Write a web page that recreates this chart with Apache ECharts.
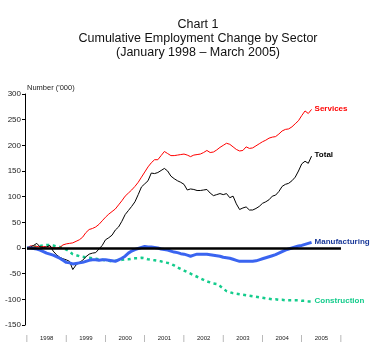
<!DOCTYPE html>
<html>
<head>
<meta charset="utf-8">
<script src="https://cdn.jsdelivr.net/npm/echarts@6/dist/echarts.min.js"></script>
<style>
html,body{margin:0;padding:0;background:#fff;}
#chart{width:387px;height:356px;}
</style>
</head>
<body>
<div id="chart"></div>
<script>
// Tick labels (years) on the x axis
var years = ['1998','1999','2000','2001','2002','2003','2004','2005'];
// Months since start of 1998 (0 = baseline), one value per month up to March 2005
var services = [0,4,4,3,2,3,2,2,1,0,1,6,8,9,10,13,16,21,30,36,38,41,46,53,60,66,71,76,84,92,101,107,113,120,128,138,148,158,166,172,172,180,188,184,180,180,181,182,183,181,178,181,182,183,186,190,186,187,191,196,200,204,202,197,192,189,190,197,194,195,199,203,207,210,214,216,217,222,228,231,232,236,242,248,258,267,262,270];
var total = [0,2,5,9,2,1,2,5,-6,-13,-18,-21,-23,-26,-42,-33,-28,-24,-17,-12,-10,-9,-2,5,16,20,25,35,41,52,65,73,81,90,104,119,125,131,146,145,147,151,155,150,140,135,131,128,124,113,115,114,112,112,113,114,107,102,104,106,104,106,98,101,86,75,78,80,74,74,77,81,87,90,94,101,103,110,120,124,126,131,138,150,164,169,165,179];
var manufacturing = [0,0,-1,-2,-4,-7,-10,-12,-14,-17,-20,-24,-28,-29,-31,-30,-29,-28,-26,-24,-23,-23,-24,-23,-23,-24,-25,-26,-23,-20,-16,-10,-6,-3,-1,1,3,2,2,1,0,-2,-3,-4,-6,-8,-9,-11,-12,-14,-16,-14,-12,-12,-12,-12,-13,-14,-15,-16,-18,-19,-20,-22,-24,-26,-26,-26,-26,-26,-25,-23,-21,-19,-17,-15,-13,-10,-7,-4,-2,0,2,4,5,7,9,11];
var construction = [0,1,2,3,4,5,6,6,5,3,2,0,-3,-7,-12,-14,-16,-17,-18,-19,-20,-21,-22,-23,-24,-25,-26,-25,-24,-23,-22,-22,-21,-20,-20,-19,-20,-22,-23,-24,-25,-26,-28,-29,-31,-34,-38,-41,-44,-47,-50,-53,-56,-59,-62,-65,-67,-69,-70,-74,-79,-84,-86,-88,-89,-90,-91,-92,-93,-94,-95,-96,-97,-98,-99,-100,-100,-101,-101,-102,-102,-102,-102,-102,-103,-103,-104,-104];

function pairs(arr){ return arr.map(function(v,i){ return [i, v]; }); }

var chart = echarts.init(document.getElementById('chart'), null, {renderer:'canvas'});
var FONT = '"Liberation Sans", Arial, sans-serif';

function endLab(color){
  return {show:true, formatter:'{a}', color:color, fontFamily:FONT, fontSize:8, fontWeight:'bold', distance:3, offset:[0,-1]};
}

var option = {
  animation:false,
  backgroundColor:'#fff',
  title:{
    text:'Chart 1\nCumulative Employment Change by Sector\n(January 1998 \u2013 March 2005)',
    left:193, top:13, textAlign:'center',
    textStyle:{fontFamily:FONT, fontSize:12.5, fontWeight:'normal', color:'#111', lineHeight:14}
  },
  graphic:[{
    type:'text', left:27, top:84,
    style:{text:"Number ('000)", fontFamily:FONT, fontSize:7.5, fill:'#222'}
  }],
  grid:{left:27, right:46, top:94, bottom:31, containLabel:false},
  xAxis:{
    type:'value', min:0, max:96, interval:6,
    axisLine:{show:false}, axisTick:{show:false}, splitLine:{show:false},
    axisLabel:{
      margin:10, fontFamily:FONT, fontSize:6, color:'#222',
      showMinLabel:true, showMaxLabel:true,
      formatter:function(v){
        if (v % 12 === 0) return '{bar|\u007c}';
        return years[(v-6)/12] || '';
      },
      rich:{bar:{color:'#888', fontSize:7, fontFamily:FONT}}
    }
  },
  yAxis:{
    type:'value', min:-150, max:300, interval:50, offset:2,
    axisLine:{show:true, onZero:false, lineStyle:{color:'#000', width:1}},
    axisTick:{show:true, length:3, lineStyle:{color:'#000'}},
    splitLine:{show:false},
    axisLabel:{fontFamily:FONT, fontSize:8, color:'#222', margin:4}
  },
  series:[
    {name:'zero', type:'line', data:[], silent:true,
     markLine:{silent:true, symbol:'none', label:{show:false},
       lineStyle:{color:'#000', width:2.5, type:'solid'},
       data:[{yAxis:0}]}},
    {name:'Construction', type:'line', data:pairs(construction), showSymbol:false,
     lineStyle:{color:'#14cc8c', width:2.5, type:[3,3.5]},
     endLabel:endLab('#14cc8c')},
    {name:'Services', type:'line', data:pairs(services), showSymbol:false,
     lineStyle:{color:'#ff0000', width:1},
     endLabel:endLab('#ff0000')},
    {name:'Total', type:'line', data:pairs(total), showSymbol:false,
     lineStyle:{color:'#000', width:1},
     endLabel:endLab('#000')},
    {name:'Manufacturing', type:'line', data:pairs(manufacturing), showSymbol:false,
     lineStyle:{color:'#3a64f0', width:3},
     endLabel:endLab('#1b3a9a')}
  ]
};
chart.setOption(option);
</script>
</body>
</html>
